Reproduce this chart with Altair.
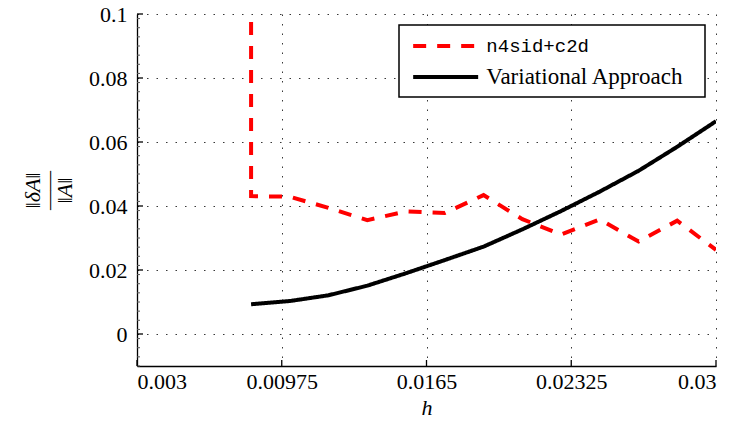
import altair as alt
import pandas as pd

# ---- data ----
h_vals = [0.00832, 0.01013, 0.01193, 0.01374, 0.01555, 0.01735, 0.01916,
          0.02097, 0.02277, 0.02458, 0.02639, 0.02819, 0.03]
red_first = 0.6   # off-scale value at the first h (clipped at top)
red_vals = [0.0431, 0.0429, 0.0394, 0.0356, 0.0383, 0.0378, 0.0434,
            0.0359, 0.0311, 0.0358, 0.0289, 0.0354, 0.0263]
black_vals = [0.0093, 0.0103, 0.0121, 0.0151, 0.0190, 0.0231, 0.0273,
              0.0327, 0.0384, 0.0445, 0.0510, 0.0585, 0.0665]
series = ["n4sid+c2d", "Variational Approach"]
x_ticks = [0.003, 0.00975, 0.0165, 0.02325, 0.03]
y_ticks = [0, 0.02, 0.04, 0.06, 0.08, 0.1]
y_minor = [round(-0.01 + k * 0.02 / 7, 6) for k in range(0, 39)]
y_minor = [v for v in y_minor if -0.01 <= v <= 0.1 and all(abs(v - t) > 1e-4 for t in y_ticks)]

W, H = 579, 352
X_DOM = [0.003, 0.03]
Y_DOM = [-0.01, 0.1]
SERIF = "Liberation Serif"

red_df = pd.DataFrame({
    "h": [h_vals[0]] + h_vals,
    "v": [red_first] + red_vals,
    "s": series[0],
    "i": list(range(len(h_vals) + 1)),
})
black_df = pd.DataFrame({
    "h": h_vals, "v": black_vals, "s": series[1], "i": list(range(len(h_vals))),
})

xscale = alt.Scale(domain=X_DOM, nice=False, zero=False)
yscale = alt.Scale(domain=Y_DOM, nice=False, zero=False)

common_axis = dict(
    labelFont=SERIF, labelFontSize=22, labelColor="black",
    titleFont=SERIF, titleFontSize=22, titleColor="black",
    titleFontWeight="normal", titleFontStyle="italic",
    domainColor="black", domainWidth=1.3, ticks=False, tickSize=0,
    grid=True, gridColor="#222", gridDash=[1.5, 8], gridWidth=1, gridOpacity=0.9,
)
x_axis = alt.Axis(values=x_ticks, labelExpr="format(datum.value, '.5~f')", title="h",
                  titlePadding=5, labelPadding=5, **common_axis)
y_axis = alt.Axis(values=y_ticks, labelExpr="format(datum.value, '.2~f')",
                  title=["‖δA‖", "——", "‖A‖"], titleLineHeight=16,
                  titlePadding=12, labelPadding=10, **common_axis)

x_enc = alt.X("h:Q", scale=xscale, axis=x_axis)
y_enc = alt.Y("v:Q", scale=yscale, axis=y_axis)

# a blank right-hand legend title only widens the legend box on its right side
legend = alt.Legend(title="\u00a0", titleOrient="right", titleFontSize=1, titlePadding=13)
color_enc = alt.Color("s:N", scale=alt.Scale(domain=series, range=["#ff0000", "#000000"]),
                      legend=legend)
dash_enc = alt.StrokeDash("s:N", scale=alt.Scale(domain=series, range=[[13, 11], [1, 0]]),
                          legend=legend)

black_line = alt.Chart(black_df).mark_line(strokeWidth=4, clip=True).encode(
    x=x_enc, y=y_enc, color=color_enc, strokeDash=dash_enc, order="i:Q")
red_line = alt.Chart(red_df).mark_line(strokeWidth=4, clip=True).encode(
    x=x_enc, y=y_enc, color=color_enc, strokeDash=dash_enc, order="i:Q")

# inward tick marks (MATLAB style)
yt = alt.Chart(pd.DataFrame({"v": y_ticks})).mark_rule(color="black", strokeWidth=1.3).encode(
    y=y_enc, x=alt.value(0), x2=alt.value(6))
ym = alt.Chart(pd.DataFrame({"v": y_minor})).mark_rule(color="#555", strokeWidth=1).encode(
    y=y_enc, x=alt.value(0), x2=alt.value(3))
xt = alt.Chart(pd.DataFrame({"h": x_ticks})).mark_rule(color="black", strokeWidth=1.3).encode(
    x=x_enc, y=alt.value(H), y2=alt.value(H - 6))

R = 65 / 6.0  # half-size unit for the custom legend stroke symbol

chart = alt.layer(black_line, red_line, yt, ym, xt).properties(
    width=W, height=H,
    padding={"left": 137, "top": 14, "right": 20, "bottom": 55},
    autosize=alt.AutoSizeParams(type="none"),
).configure(font=SERIF).configure_view(stroke=None).configure_legend(
    orient="top-right", offset=11, padding=8,
    strokeColor="black", strokeWidth=1.5, fillColor="white",
    symbolType="M-3,0H3", symbolSize=(2 * R) ** 2, symbolStrokeWidth=4,
    symbolOffset=2 * R + 4,
    labelFont=alt.ExprRef(expr="datum.label == 'n4sid+c2d' ? 'Liberation Mono' : 'Liberation Serif'"),
    labelFontSize=alt.ExprRef(expr="datum.label == 'n4sid+c2d' ? 19 : 23"),
    labelColor="black", labelOffset=2 * R + 6, rowPadding=8, labelLimit=400,
)

chart.save("out.html", embed_options={"renderer": "svg", "actions": False})
